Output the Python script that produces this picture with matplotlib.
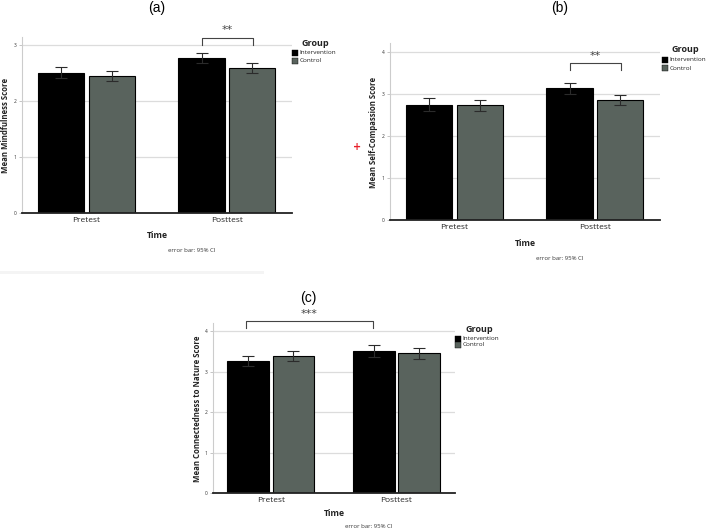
import matplotlib
matplotlib.use("Agg")
import matplotlib.pyplot as plt
from matplotlib.patches import Rectangle
import numpy as np

W, H = 709, 532
times = ["Pretest", "Posttest"]
groups = ["Intervention", "Control"]

# Panel (a) Mindfulness
a_int = [2.50, 2.77]
a_ctl = [2.45, 2.58]
a_int_ci = [(2.41, 2.60), (2.68, 2.86)]
a_ctl_ci = [(2.36, 2.54), (2.50, 2.67)]

# Panel (b) Self-Compassion
b_int = [2.74, 3.13]
b_ctl = [2.73, 2.86]
b_int_ci = [(2.60, 2.89), (2.99, 3.27)]
b_ctl_ci = [(2.60, 2.86), (2.74, 2.98)]

# Panel (c) Connectedness to Nature
c_int = [3.26, 3.50]
c_ctl = [3.38, 3.46]
c_int_ci = [(3.14, 3.38), (3.36, 3.65)]
c_ctl_ci = [(3.27, 3.51), (3.32, 3.59)]

INT_COLOR = "#000000"
CTL_COLOR = "#59635d"
FONT = "Open Sans"

fig = plt.figure(figsize=(W / 100, H / 100), dpi=100)
fig.patch.set_facecolor("white")


def px_axes(left, right, top, bottom):
    return fig.add_axes([left / W, 1 - bottom / H, (right - left) / W, (bottom - top) / H])


def fx(x):
    return x / W


def fy(y):
    return 1 - y / H


def panel(ax, ints, ctls, int_ci, ctl_ci, ymax, yticks):
    x = np.arange(len(times))
    off, w = 0.18, 0.33
    for vals, ci, col, sgn in [(ints, int_ci, INT_COLOR, -1), (ctls, ctl_ci, CTL_COLOR, 1)]:
        xs = x + sgn * off
        ax.bar(xs, vals, width=w, color=col, edgecolor="black", linewidth=0.8, zorder=3)
        lo = [v - c[0] for v, c in zip(vals, ci)]
        hi = [c[1] - v for v, c in zip(vals, ci)]
        ax.errorbar(xs, vals, yerr=[lo, hi], fmt="none", ecolor="#2b2b2b",
                    elinewidth=0.8, capsize=4.5, capthick=0.8, zorder=4)
    ax.set_xlim(-0.46, 1.465)
    ax.set_ylim(0, ymax)
    ax.set_yticks(yticks)
    ax.set_yticklabels([str(t) for t in yticks], fontsize=3.5, color="#333333", family=FONT)
    ax.set_xticks(x)
    ax.set_xticklabels(times, fontsize=6, family=FONT, color="#222222")
    ax.tick_params(axis="x", length=0, pad=3)
    ax.tick_params(axis="y", length=2, width=0.6, color="#bbbbbb", pad=2)
    ax.grid(axis="y", color="#dcdcdc", linewidth=0.9, zorder=0)
    for s in ["top", "right"]:
        ax.spines[s].set_visible(False)
    ax.spines["left"].set_color("#cccccc")
    ax.spines["left"].set_linewidth(0.8)
    ax.spines["bottom"].set_color("#222222")
    ax.spines["bottom"].set_linewidth(1.3)
    ax.spines["bottom"].set_zorder(5)
    ax.set_facecolor("white")


def ylab(xp, yp, text):
    fig.text(fx(xp), fy(yp), text, rotation=90, fontsize=5.6, fontweight="bold",
             family=FONT, ha="center", va="center", color="#222222")


def bracket(ax, x1, x2, y, ylo, stars):
    ax.plot([x1, x1, x2, x2], [ylo, y, y, ylo], color="#444444", linewidth=0.8,
            clip_on=False, zorder=6)
    ax.text((x1 + x2) / 2, y + (y - ylo) * 0.3, stars, ha="center", va="bottom",
            fontsize=8, color="#444444", family="DejaVu Sans")


def legend(xg, yg, y1, y2):
    fig.text(fx(xg), fy(yg), "Group", fontsize=6.5, fontweight="bold", family=FONT,
             va="center", ha="left", color="#222222")
    for yy, col, name in [(y1, INT_COLOR, groups[0]), (y2, CTL_COLOR, groups[1])]:
        fig.patches.append(Rectangle((fx(xg - 10), fy(yy + 3)), 6 / W, 6 / H,
                                     transform=fig.transFigure, facecolor=col,
                                     edgecolor="black", linewidth=0.3))
        fig.text(fx(xg - 2.5), fy(yy), name, fontsize=4.6, family=FONT, va="center",
                 ha="left", color="#222222")


def captions(xc, yt, ye):
    fig.text(fx(xc), fy(yt), "Time", fontsize=6.2, fontweight="bold", family=FONT,
             ha="center", va="center", color="#222222")
    fig.text(fx(xc + 35), fy(ye), "error bar: 95% CI", fontsize=4.3, family=FONT,
             ha="center", va="center", color="#333333")


# ---- Panel (a)
ax_a = px_axes(22, 292, 37, 213)
panel(ax_a, a_int, a_ctl, a_int_ci, a_ctl_ci, 3.14, [0, 1, 2, 3])
ylab(6, 125, "Mean Mindfulness Score")
bracket(ax_a, 0.82, 1.19, 3.13, 3.0, "**")
legend(302, 43, 53, 61)
captions(157, 235, 250)
fig.text(fx(157), fy(8), "(a)", fontsize=10, family="Liberation Sans", ha="center", va="center")

# ---- Panel (b)
ax_b = px_axes(390, 660, 43, 220)
panel(ax_b, b_int, b_ctl, b_int_ci, b_ctl_ci, 4.21, [0, 1, 2, 3, 4])
ylab(374, 132, "Mean Self-Compassion Score")
bracket(ax_b, 0.82, 1.19, 3.73, 3.56, "**")
legend(672, 50, 60, 68)
captions(525, 243, 258)
fig.text(fx(560), fy(8), "(b)", fontsize=10, family="Liberation Sans", ha="center", va="center")

# ---- Panel (c)
ax_c = px_axes(213, 455, 323, 493)
panel(ax_c, c_int, c_ctl, c_int_ci, c_ctl_ci, 4.2, [0, 1, 2, 3, 4])
ylab(198, 409, "Mean Connectedness to Nature Score")
bracket(ax_c, -0.2, 0.815, 4.25, 4.08, "***")
legend(465, 329, 339, 345)
captions(334, 514, 527)
fig.text(fx(308), fy(298), "(c)", fontsize=10, family="Liberation Sans", ha="center", va="center")

# faint separator strip and red mark seen in the source image
fig.patches.append(Rectangle((0, fy(274)), 264 / W, 3 / H, transform=fig.transFigure,
                             facecolor="#f4f4f4", edgecolor="none"))
fig.text(fx(357), fy(147), "+", color="#e8202a", fontsize=7, fontweight="bold",
         ha="center", va="center", family="DejaVu Sans")

fig.savefig("out.png", dpi=100, facecolor="white")
